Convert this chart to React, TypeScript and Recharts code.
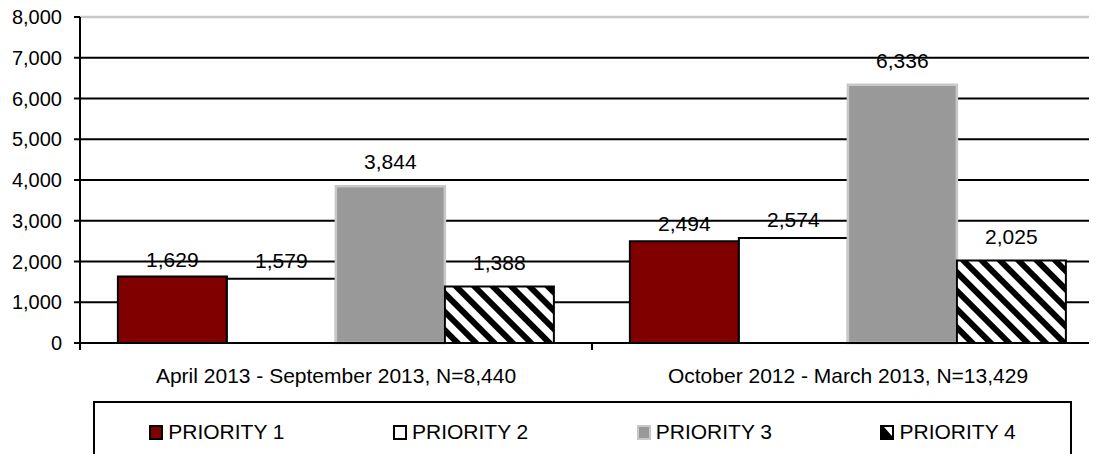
import React from 'react';
import { BarChart, Bar, XAxis, YAxis, CartesianGrid, ReferenceLine, LabelList } from 'recharts';

const categories = ['April 2013 - September 2013, N=8,440', 'October 2012 - March 2013, N=13,429'];
const priority1 = [1629, 2494];
const priority2 = [1579, 2574];
const priority3 = [3844, 6336];
const priority4 = [1388, 2025];
const seriesNames = ['PRIORITY 1', 'PRIORITY 2', 'PRIORITY 3', 'PRIORITY 4'];
const yTicks = [0, 1000, 2000, 3000, 4000, 5000, 6000, 7000, 8000];

const data = categories.map((c, i) => ({
  category: c,
  p1: priority1[i],
  p2: priority2[i],
  p3: priority3[i],
  p4: priority4[i],
}));

const FONT = '"Liberation Sans", Arial, sans-serif';
const CHART_W = 1110;
const CHART_H = 400;
const MARGIN = { top: 17, right: 6, left: 0, bottom: 0 };
const YAXIS_W = 80;
const CAT_W = (CHART_W - YAXIS_W - MARGIN.right) / categories.length;

const series = [
  { key: 'p1', name: seriesNames[0], fill: '#800000', stroke: '#000', sw: 2, off: 10 },
  { key: 'p2', name: seriesNames[1], fill: '#ffffff', stroke: '#000', sw: 2, off: 11 },
  { key: 'p3', name: seriesNames[2], fill: '#999999', stroke: '#c8c8c8', sw: 2.5, off: 17 },
  { key: 'p4', name: seriesNames[3], fill: 'url(#hatch4)', stroke: '#000', sw: 2, off: 16 },
];

const fmt = (v: any) => Number(v).toLocaleString('en-US');

const CategoryTick = (props: any) => {
  const { x, y, payload } = props;
  const half = CAT_W / 2;
  return (
    <g>
      <line x1={x - half} x2={x - half} y1={y} y2={y + 7} stroke="#000" strokeWidth={2} />
      <line x1={x + half} x2={x + half} y1={y} y2={y + 7} stroke="#000" strokeWidth={2} />
      <text x={x} y={y + 40} textAnchor="middle" fontSize={21} fontFamily={FONT} fill="#000">
        {payload.value}
      </text>
    </g>
  );
};

const Marker = ({ idx }: { idx: number }) => {
  const s = series[idx];
  if (idx === 3) {
    return (
      <svg width={14} height={15} style={{ display: 'block' }}>
        <rect x={0} y={0} width={14} height={15} fill="#000" />
        <polygon points="4,2 12,2 12,11" fill="#fff" />
        <rect x={1} y={1} width={12} height={13} fill="none" stroke="#000" strokeWidth={2} />
      </svg>
    );
  }
  return (
    <svg width={14} height={15} style={{ display: 'block' }}>
      <rect x={1} y={1} width={12} height={13} fill={s.fill} stroke={s.stroke} strokeWidth={2} />
    </svg>
  );
};

export default function App() {
  return (
    <div style={{ margin: -8, width: 1097, height: 462, overflow: 'hidden', position: 'relative', background: '#fff', fontFamily: FONT }}>
      <svg width={0} height={0} style={{ position: 'absolute' }}>
        <defs>
          <pattern id="hatch4" patternUnits="userSpaceOnUse" width={13} height={13} patternTransform="rotate(-45)">
            <rect x={0} y={0} width={13} height={13} fill="#fff" />
            <rect x={0} y={0} width={6} height={13} fill="#000" />
          </pattern>
        </defs>
      </svg>
      <BarChart width={CHART_W} height={CHART_H} data={data} margin={MARGIN} barCategoryGap="7.4%" barGap={0}>
        <CartesianGrid vertical={false} stroke="#000" strokeWidth={2} />
        <ReferenceLine y={8000} stroke="#c8c8c8" strokeWidth={2.5} />
        <XAxis
          dataKey="category"
          tickLine={false}
          axisLine={{ stroke: '#000', strokeWidth: 2 }}
          tickSize={0}
          tickMargin={0}
          height={57}
          interval={0}
          tick={<CategoryTick />}
        />
        <YAxis
          width={YAXIS_W}
          domain={[0, 8000]}
          ticks={yTicks}
          interval={0}
          tickFormatter={fmt}
          tickSize={6}
          tickMargin={12}
          axisLine={{ stroke: '#000', strokeWidth: 2 }}
          tickLine={{ stroke: '#000', strokeWidth: 2 }}
          tick={{ fontSize: 20, fill: '#000', fontFamily: FONT }}
        />
        {series.map((s) => (
          <Bar key={s.key} dataKey={s.key} name={s.name} fill={s.fill} stroke={s.stroke} strokeWidth={s.sw} isAnimationActive={false}>
            <LabelList dataKey={s.key} position="top" offset={s.off} formatter={fmt} fill="#000" fontSize={21} fontFamily={FONT} />
          </Bar>
        ))}
      </BarChart>
      <div
        style={{
          position: 'absolute',
          left: 93,
          top: 401,
          width: 979,
          height: 90,
          border: '2px solid #000',
          boxSizing: 'border-box',
          display: 'flex',
          justifyContent: 'space-around',
          alignItems: 'flex-start',
          paddingTop: 17,
        }}
      >
        {series.map((s, i) => (
          <div key={s.key} style={{ display: 'flex', alignItems: 'center', height: 24 }}>
            <Marker idx={i} />
            <span style={{ marginLeft: 5, fontSize: 21, lineHeight: '24px', color: '#000' }}>{s.name}</span>
          </div>
        ))}
      </div>
    </div>
  );
}
